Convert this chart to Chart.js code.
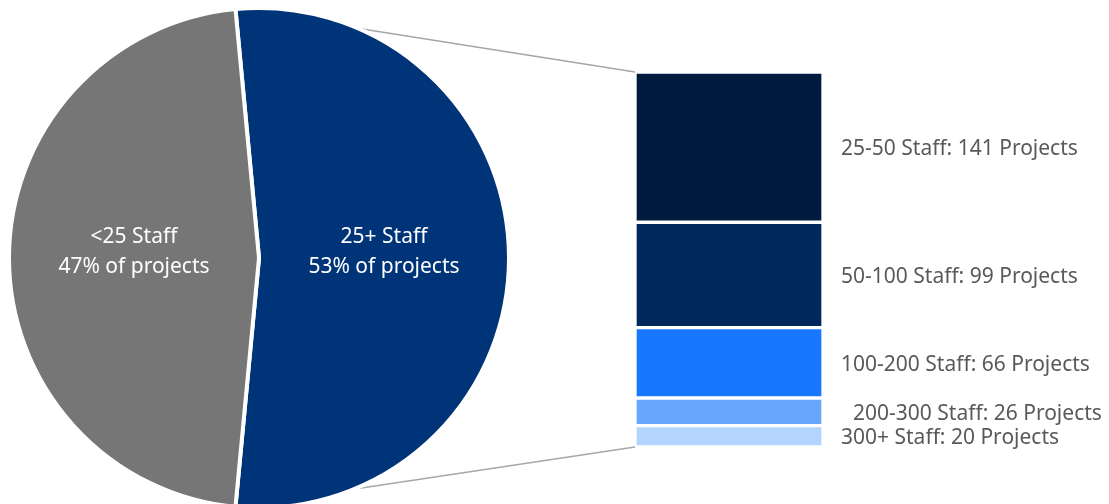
<!DOCTYPE html>
<html>
<head>
<meta charset="utf-8">
<script src="https://cdn.jsdelivr.net/npm/chart.js@4.4.1/dist/chart.umd.min.js"></script>
<style>
  html, body { margin: 0; padding: 0; background: #fff; }
  #wrap { position: relative; width: 1109px; height: 504px; overflow: hidden; }
  #wrap canvas { position: absolute; left: 0; top: 0; }
</style>
</head>
<body>
<div id="wrap">
  <canvas id="barChart" width="1109" height="504"></canvas>
  <canvas id="pieChart" width="1109" height="512"></canvas>
</div>
<script>
// dados do gráfico
const pieLabels = ['25+ Staff', '<25 Staff'];
const pieShares = [53, 47];

const bandLabels = ['25-50 Staff', '50-100 Staff', '100-200 Staff', '200-300 Staff', '300+ Staff'];
const bandProjects = [141, 99, 66, 26, 20];

const pieColors = ['#003478', '#767676'];
const bandColors = ['#001b3d', '#00285d', '#1877ff', '#66a6ff', '#b3d4ff'];
const FONT = 'Noto Sans';

Chart.defaults.font.family = FONT;

// texto dentro das fatias
const pieText = {
  id: 'pieText',
  afterDatasetsDraw(chart) {
    const ctx = chart.ctx;
    const meta = chart.getDatasetMeta(0);
    ctx.save();
    ctx.fillStyle = '#ffffff';
    ctx.font = '21px "' + FONT + '"';
    ctx.textAlign = 'center';
    ctx.textBaseline = 'middle';
    meta.data.forEach((arc, i) => {
      const mid = (arc.startAngle + arc.endAngle) / 2;
      const r = arc.outerRadius * 0.5;
      const x = arc.x + Math.cos(mid) * r;
      const y = arc.y + Math.sin(mid) * r - 6;
      ctx.fillText(pieLabels[i], x, y - 15);
      ctx.fillText(pieShares[i] + '% of projects', x, y + 15);
    });
    ctx.restore();
  }
};

const pieChart = new Chart(document.getElementById('pieChart'), {
  type: 'pie',
  data: {
    labels: pieLabels,
    datasets: [{
      data: pieShares,
      backgroundColor: pieColors,
      borderColor: '#ffffff',
      borderWidth: 4
    }]
  },
  options: {
    responsive: false,
    animation: false,
    rotation: -pieShares[0] / 100 * 180 + 90,
    layout: { padding: { left: 7, top: 6, right: 598, bottom: 2 } },
    plugins: { legend: { display: false }, tooltip: { enabled: false } }
  },
  plugins: [pieText]
});

// linhas de ligação (atrás da pizza) + rótulos das faixas
const barExtras = {
  id: 'barExtras',
  afterDatasetsDraw(chart) {
    const ctx = chart.ctx;
    const arc = pieChart.getDatasetMeta(0).data[0];
    const a0 = arc.startAngle, a1 = arc.endAngle;
    const r = arc.outerRadius;
    const n = bandLabels.length;
    const topBar = chart.getDatasetMeta(0).data[0];
    const botBar = chart.getDatasetMeta(n - 1).data[0];
    const left = topBar.x - topBar.width / 2;
    const yTop = Math.min(topBar.y, topBar.base);
    const yBot = Math.max(botBar.y, botBar.base);

    ctx.save();
    ctx.strokeStyle = '#a6a6a6';
    ctx.lineWidth = 1.5;
    ctx.beginPath();
    ctx.moveTo(arc.x + Math.cos(a0) * r, arc.y + Math.sin(a0) * r);
    ctx.lineTo(left, yTop);
    ctx.moveTo(arc.x + Math.cos(a1) * r, arc.y + Math.sin(a1) * r);
    ctx.lineTo(left, yBot);
    ctx.stroke();

    ctx.fillStyle = '#595959';
    ctx.font = '21px "' + FONT + '"';
    ctx.textAlign = 'left';
    ctx.textBaseline = 'middle';
    bandLabels.forEach((lab, i) => {
      const bar = chart.getDatasetMeta(i).data[0];
      const x = bar.x + bar.width / 2 + (i === 3 ? 30 : 18);
      const y = (bar.y + bar.base) / 2 + 2;
      ctx.fillText(lab + ': ' + bandProjects[i] + ' Projects', x, y);
    });
    ctx.restore();
  }
};

const total = bandProjects.reduce((a, b) => a + b, 0);

new Chart(document.getElementById('barChart'), {
  type: 'bar',
  data: {
    labels: [''],
    datasets: bandLabels.map((lab, i) => ({
      label: lab,
      data: [bandProjects[i]],
      backgroundColor: bandColors[i],
      borderColor: '#ffffff',
      borderWidth: 2,
      borderSkipped: false,
      barPercentage: 1,
      categoryPercentage: 1,
      stack: 's',
      order: i
    }))
  },
  options: {
    responsive: false,
    animation: false,
    layout: { padding: { left: 635, right: 286, top: 72, bottom: 57 } },
    scales: {
      x: { display: false, stacked: true },
      y: { display: false, stacked: true, min: 0, max: total, reverse: true }
    },
    plugins: { legend: { display: false }, tooltip: { enabled: false } }
  },
  plugins: [barExtras]
});
</script>
</body>
</html>
